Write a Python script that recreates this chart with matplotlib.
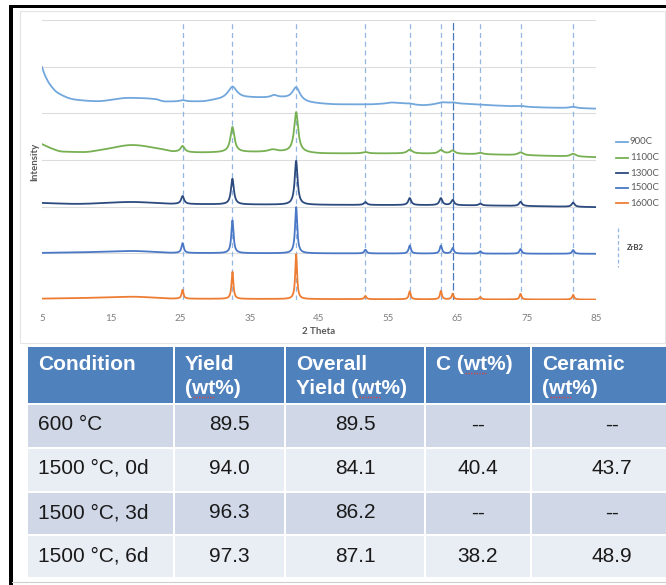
import numpy as np
import matplotlib
matplotlib.use("Agg")
import matplotlib.pyplot as plt
from matplotlib.patches import Rectangle

# ---------------- XRD data ----------------
series_names = ["900C", "1100C", "1300C", "1500C", "1600C"]
series_colors = ["#72a7dc", "#77b052", "#2c4a7e", "#4a78c6", "#ee7d34"]

zrb2_positions = [25.3, 32.5, 41.7, 51.7, 58.1, 62.6, 64.3, 68.3, 74.1, 81.7]

# background knots (2-theta, offset intensity) for each pattern
bg_900_x = [5, 5.3, 5.6, 6, 6.5, 7, 8, 9, 10, 13, 17.5, 20, 23, 28, 30, 36, 39, 44, 48, 52, 56, 60, 63, 66, 70, 76, 85]
bg_900_y = [4.99, 4.86, 4.76, 4.65, 4.55, 4.47, 4.38, 4.32, 4.29, 4.26, 4.33, 4.32, 4.25, 4.25, 4.28, 4.33, 4.33,
            4.22, 4.19, 4.19, 4.21, 4.17, 4.20, 4.20, 4.17, 4.13, 4.10]
bg_1100_x = [5, 6, 8, 11, 14, 18, 22, 24, 28, 36, 40, 46, 55, 65, 75, 85]
bg_1100_y = [3.34, 3.27, 3.18, 3.17, 3.23, 3.32, 3.24, 3.18, 3.16, 3.17, 3.17, 3.14, 3.14, 3.13, 3.10, 3.06]
bg_1300_x = [5, 10, 18, 24, 45, 65, 85]
bg_1300_y = [2.08, 2.06, 2.10, 2.06, 2.04, 2.03, 1.99]
bg_1500_x = [5, 10, 18, 24, 45, 85]
bg_1500_y = [1.01, 1.02, 1.05, 1.01, 1.00, 0.99]
bg_1600_x = [5, 10, 18, 24, 45, 85]
bg_1600_y = [0.03, 0.04, 0.07, 0.03, 0.02, 0.01]

# peak positions / heights / widths per pattern
pk_900_pos = [21.5, 25.3, 32.5, 38.5, 41.7, 55.5, 58.1, 62.8, 64.3, 74.1, 81.7]
pk_900_h = [0.02, 0.03, 0.26, 0.05, 0.28, 0.02, 0.02, 0.03, 0.03, 0.02, 0.03]
pk_900_w = [0.8, 1.0, 1.6, 1.0, 1.3, 1.5, 1.5, 1.5, 1.5, 1.5, 1.2]

pk_1100_pos = [25.3, 32.5, 38.3, 41.7, 51.7, 58.1, 62.6, 64.3, 68.3, 74.1, 81.7]
pk_1100_h = [0.13, 0.54, 0.05, 0.86, 0.03, 0.08, 0.08, 0.07, 0.03, 0.06, 0.06]
pk_1100_w = [0.7, 0.7, 1.5, 0.7, 0.9, 0.9, 0.8, 0.8, 0.9, 0.9, 0.9]

pk_1300_pos = zrb2_positions
pk_1300_h = [0.17, 0.55, 0.94, 0.06, 0.15, 0.15, 0.11, 0.04, 0.09, 0.09]
pk_1300_w = [0.5] * 10

pk_1500_pos = zrb2_positions
pk_1500_h = [0.21, 0.70, 0.99, 0.08, 0.17, 0.17, 0.12, 0.05, 0.10, 0.08]
pk_1500_w = [0.38] * 10

pk_1600_pos = zrb2_positions
pk_1600_h = [0.19, 0.58, 0.96, 0.07, 0.17, 0.18, 0.12, 0.05, 0.12, 0.10]
pk_1600_w = [0.32] * 10

x_ticks = [5, 15, 25, 35, 45, 55, 65, 75, 85]

# ---------------- table data ----------------
header_lines = [["Condition"], ["Yield", "(wt%)"], ["Overall", "Yield (wt%)"], ["C (wt%)"], ["Ceramic", "(wt%)"]]
conditions = ["600 °C", "1500 °C, 0d", "1500 °C, 3d", "1500 °C, 6d"]
yield_wt = ["89.5", "94.0", "96.3", "97.3"]
overall_yield = ["89.5", "84.1", "86.2", "87.1"]
carbon_wt = ["--", "40.4", "--", "38.2"]
ceramic_wt = ["--", "43.7", "--", "48.9"]

# ---------------- figure ----------------
W, H = 666, 585
fig = plt.figure(figsize=(W / 100, H / 100), dpi=100)
fig.patch.set_facecolor("white")

ax0 = fig.add_axes([0, 0, 1, 1], zorder=0)
ax0.set_xlim(0, W)
ax0.set_ylim(H, 0)
ax0.axis("off")

# frame / panel
ax0.add_patch(Rectangle((20, 11), 645, 332, fill=False, ec="#e4e4e4", lw=0.8))
ax0.add_patch(Rectangle((9, 5), W - 9, 3, fc="black", ec="none"))
ax0.add_patch(Rectangle((9, 5), 3.5, H - 5, fc="black", ec="none"))
ax0.plot([12, W], [582, 582], color="#cfcfcf", lw=0.8)

# chart axes
ax = fig.add_axes([42 / W, 1 - 300 / H, 554 / W, 280 / H], zorder=1)
ax.set_facecolor("none")
ax.set_xlim(5, 85)
ax.set_ylim(0, 6)
for s in ax.spines.values():
    s.set_visible(False)
ax.set_yticks([])
ax.set_xticks(x_ticks)
ax.tick_params(axis="x", length=0, pad=10, labelsize=7, labelcolor="#7f7f7f")
for lab in ax.get_xticklabels():
    lab.set_fontfamily("Lato")
for gy in range(0, 7):
    ax.axhline(gy, color="#dcdcdc", lw=0.8, zorder=0)

for p in zrb2_positions:
    if abs(p - 64.3) < 0.05:
        ax.axvline(p, color="#4a78bd", lw=0.9, ls=(0, (6, 2)), zorder=1)
    else:
        ax.axvline(p, color="#93b6e2", lw=0.9, ls=(0, (4, 3)), zorder=1)

x = np.linspace(5, 85, 4001)


def smooth_curve(xk, yk, xs):
    """Monotone cubic (PCHIP-style) curve through the read knots."""
    xk = np.asarray(xk, float)
    yk = np.asarray(yk, float)
    h = np.diff(xk)
    delta = np.diff(yk) / h
    d = np.zeros_like(yk)
    d[0], d[-1] = delta[0], delta[-1]
    for k in range(1, len(xk) - 1):
        if delta[k - 1] * delta[k] > 0:
            w1 = 2 * h[k] + h[k - 1]
            w2 = h[k] + 2 * h[k - 1]
            d[k] = (w1 + w2) / (w1 / delta[k - 1] + w2 / delta[k])
    idx = np.clip(np.searchsorted(xk, xs) - 1, 0, len(xk) - 2)
    t = (xs - xk[idx]) / h[idx]
    h00 = 2 * t**3 - 3 * t**2 + 1
    h10 = t**3 - 2 * t**2 + t
    h01 = -2 * t**3 + 3 * t**2
    h11 = t**3 - t**2
    return h00 * yk[idx] + h10 * h[idx] * d[idx] + h01 * yk[idx + 1] + h11 * h[idx] * d[idx + 1]


def pattern(bx, by, pos, hts, wds):
    y = smooth_curve(bx, by, x)
    for c, hh, w in zip(pos, hts, wds):
        y = y + hh / (1 + ((x - c) / (w / 2)) ** 2)
    return y


patterns = [
    (bg_900_x, bg_900_y, pk_900_pos, pk_900_h, pk_900_w),
    (bg_1100_x, bg_1100_y, pk_1100_pos, pk_1100_h, pk_1100_w),
    (bg_1300_x, bg_1300_y, pk_1300_pos, pk_1300_h, pk_1300_w),
    (bg_1500_x, bg_1500_y, pk_1500_pos, pk_1500_h, pk_1500_w),
    (bg_1600_x, bg_1600_y, pk_1600_pos, pk_1600_h, pk_1600_w),
]
for (bx, by, pos, hts, wds), col in zip(patterns, series_colors):
    ax.plot(x, pattern(bx, by, pos, hts, wds), color=col, lw=1.3, zorder=2)

ax0.text(319, 331, "2 Theta", ha="center", va="center", fontsize=7, fontweight="bold",
         color="#595959", family="Lato")
ax0.text(35, 162, "Intensity", ha="center", va="center", rotation=90, fontsize=7,
         fontweight="bold", color="#595959", family="Lato")

# legend
leg_y = [142, 158, 173, 188, 203]
for yy, name, col in zip(leg_y, series_names, series_colors):
    ax0.plot([616, 628], [yy, yy], color=col, lw=1.3)
    ax0.text(630, yy, name, ha="left", va="center", fontsize=7, color="#595959", family="Lato")
ax0.plot([618, 618], [228, 267], color="#93b6e2", lw=0.9, ls=(0, (3, 2)))
ax0.text(627, 248, "ZrB2", ha="left", va="center", fontsize=5.5, fontweight="bold",
         color="#404040", family="Lato")

# ---------------- table ----------------
col_edges = [27, 174, 285, 425, 531, 693]
row_edges = [346, 404, 448, 492, 535, 578]
header_color = "#4f81bd"
band_colors = ["#d0d8e8", "#e9edf4", "#d0d8e8", "#e9edf4"]
tfont = "Liberation Sans"
fsz = 15

for ci in range(5):
    x0, x1 = col_edges[ci], col_edges[ci + 1]
    for ri in range(5):
        y0, y1 = row_edges[ri], row_edges[ri + 1]
        fc = header_color if ri == 0 else band_colors[ri - 1]
        ax0.add_patch(Rectangle((x0 + 1, y0 + 1), x1 - x0 - 2, y1 - y0 - 2, fc=fc, ec="none"))

head_texts = []
for ci, lines in enumerate(header_lines):
    for li, line in enumerate(lines):
        t = ax0.text(col_edges[ci] + 11, 364 + 24 * li, line, ha="left", va="center",
                     fontsize=fsz, fontweight="bold", color="white", family=tfont)
        head_texts.append((t, line))

row_centers = [425, 468, 513, 556]
columns = [yield_wt, overall_yield, carbon_wt, ceramic_wt]
for ri in range(4):
    ax0.text(col_edges[0] + 11, row_centers[ri], conditions[ri], ha="left", va="center",
             fontsize=fsz, color="#1a1a1a", family=tfont)
    for ci, vals in enumerate(columns):
        cx = (col_edges[ci + 1] + col_edges[ci + 2]) / 2
        ax0.text(cx, row_centers[ri], vals[ri], ha="center", va="center",
                 fontsize=fsz, color="#1a1a1a", family=tfont)

# spell-check squiggles under "wt"
fig.canvas.draw()
r = fig.canvas.get_renderer()


def text_width(s):
    if not s:
        return 0.0
    tmp = ax0.text(0, 0, s, fontsize=fsz, fontweight="bold", family=tfont)
    w = tmp.get_window_extent(r).width
    tmp.remove()
    return w


for t, line in head_texts:
    k = line.find("wt")
    if k < 0:
        continue
    bb = t.get_window_extent(r)
    xa = bb.x0 + text_width(line[:k])
    xb = bb.x0 + text_width(line[:k + 2])
    yb = H - bb.y0 - 1
    ax0.plot([xa + 1, xb - 1], [yb, yb], color="#d9474c", lw=1.0, ls=(0, (1, 1)))

fig.savefig("out.png", dpi=100, facecolor="white")
